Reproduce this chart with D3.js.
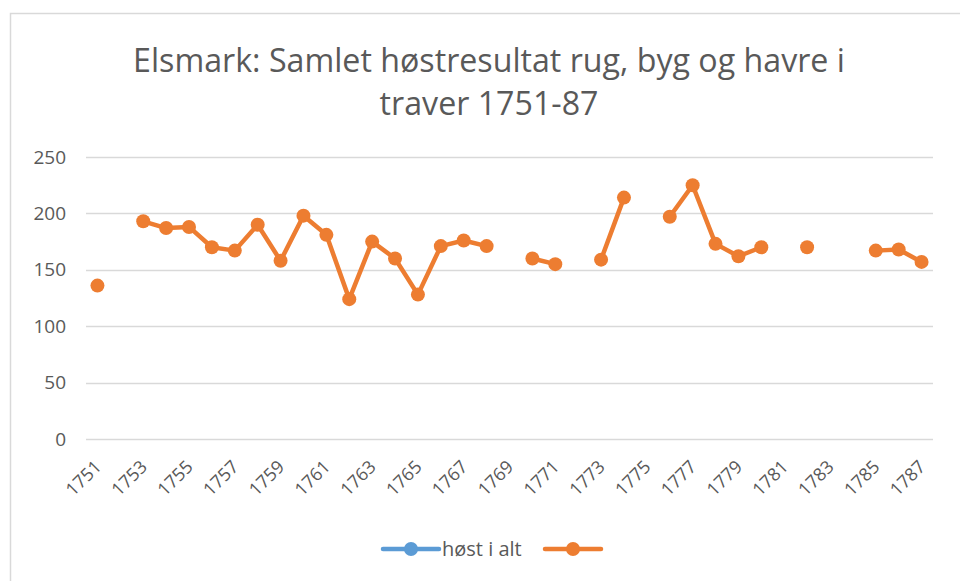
<!DOCTYPE html>
<html><head><meta charset="utf-8">
<script src="https://cdn.jsdelivr.net/npm/d3@7"></script>
<style>
html,body{margin:0;padding:0;background:#fff;}
svg{display:block;font-family:"Open Sans",sans-serif;}
</style></head>
<body>
<svg id="chart" width="960" height="581"></svg>
<script>
const years = d3.range(1751, 1788).map(String);
const tickYears = years.filter((d, i) => i % 2 === 0);
const yTicks = [0, 50, 100, 150, 200, 250];
const hostIAlt = [];
const harvest = [136, null, 193, 187, 188, 170, 167, 190, 158, 198, 181, 124, 175, 160, 128, 171, 176, 171, null, 160, 155, null, 159, 214, null, 197, 225, 173, 162, 170, null, 170, null, null, 167, 168, 157];
const seriesNames = ["høst i alt", ""];
const colors = ["#5B9BD5", "#ED7D31"];
const titleLines = ["Elsmark: Samlet høstresultat rug, byg og havre i", "traver 1751-87"];

const svg = d3.select("#chart");
svg.append("rect").attr("x", 10.5).attr("y", 13.5).attr("width", 970).attr("height", 600)
  .attr("fill", "#fff").attr("stroke", "#d9d9d9").attr("stroke-width", 1.5);

const m = {left: 86, right: 27, top: 157, bottom: 142};
const W = 960, H = 581;
const x = d3.scaleBand().domain(years).range([m.left, W - m.right]);
const y = d3.scaleLinear().domain([0, 250]).range([H - m.bottom, m.top]);

// title
const title = svg.append("g").attr("fill", "#595959");
const t0 = title.append("text").attr("x", 489).attr("y", 72)
  .attr("text-anchor", "middle").attr("font-size", 30).text(titleLines[0]);
const fs = 30 * 712 / t0.node().getComputedTextLength();
t0.attr("font-size", fs);
title.append("text").attr("x", 489).attr("y", 115)
  .attr("text-anchor", "middle").attr("font-size", fs).text(titleLines[1]);

// grid
svg.append("g").selectAll("line").data(yTicks).join("line")
  .attr("x1", m.left).attr("x2", W - m.right)
  .attr("y1", d => Math.round(y(d)) + 0.5).attr("y2", d => Math.round(y(d)) + 0.5)
  .attr("stroke", "#d9d9d9").attr("stroke-width", 1.5);

// y axis
const ya = svg.append("g").attr("transform", `translate(${m.left - 20},0)`)
  .call(d3.axisLeft(y).tickValues(yTicks).tickSize(0).tickPadding(0));
ya.select(".domain").remove();
ya.attr("font-size", null).attr("font-family", null);
ya.selectAll("text").attr("font-size", 19).attr("fill", "#595959");

// x axis
const xa = svg.append("g").attr("transform", `translate(0,${H - m.bottom})`)
  .call(d3.axisBottom(x).tickValues(tickYears).tickSize(0));
xa.select(".domain").remove();
xa.attr("font-size", null).attr("font-family", null);
xa.selectAll("text").attr("font-size", 18).attr("fill", "#595959")
  .attr("text-anchor", "end").attr("dy", 0).attr("x", 0).attr("y", 0)
  .attr("transform", "translate(5,29) rotate(-45)");

// lines
const line = d3.line().defined(d => d != null)
  .x((d, i) => x(years[i]) + x.bandwidth() / 2).y(d => y(d));
const allSeries = [hostIAlt, harvest];
allSeries.forEach((vals, s) => {
  if (!vals.length) return;
  svg.append("path").datum(vals).attr("d", line).attr("fill", "none")
    .attr("stroke", colors[s]).attr("stroke-width", 4.5).attr("stroke-linejoin", "round");
  svg.append("g").selectAll("circle")
    .data(vals.map((v, i) => ({v, i})).filter(d => d.v != null)).join("circle")
    .attr("cx", d => x(years[d.i]) + x.bandwidth() / 2).attr("cy", d => y(d.v))
    .attr("r", 7).attr("fill", colors[s]);
});

// legend
const lg = svg.append("g").attr("transform", "translate(0,549)");
const legendItems = [{x: 383, label: seriesNames[0], c: colors[0]}, {x: 545, label: seriesNames[1], c: colors[1]}];
legendItems.forEach(it => {
  lg.append("line").attr("x1", it.x).attr("x2", it.x + 56).attr("y1", 0).attr("y2", 0)
    .attr("stroke", it.c).attr("stroke-width", 4.5).attr("stroke-linecap", "round");
  lg.append("circle").attr("cx", it.x + 28).attr("cy", 0).attr("r", 7).attr("fill", it.c);
  if (it.label) lg.append("text").attr("x", it.x + 59).attr("y", 0).attr("dy", "0.35em")
    .attr("font-size", 20).attr("fill", "#595959").text(it.label);
});
</script>
</body></html>
